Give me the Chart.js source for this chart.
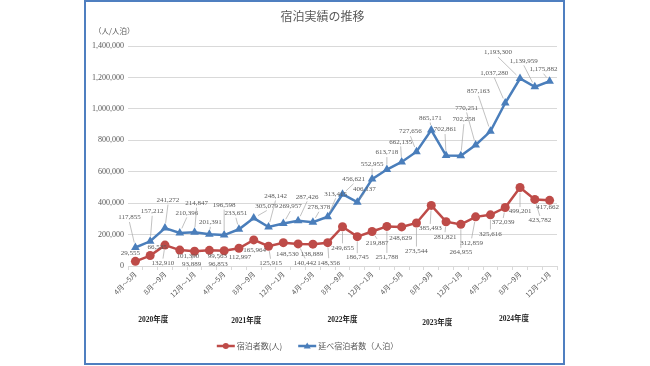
<!DOCTYPE html>
<html><head><meta charset="utf-8">
<script src="https://cdn.jsdelivr.net/npm/chart.js@4"></script>
<style>
html,body{margin:0;padding:0;background:#fff;}
#wrap{position:relative;width:650px;height:366px;overflow:hidden;}
#frame{position:absolute;left:84px;top:0;width:477px;height:361px;border:2px solid #4f7fc0;pointer-events:none;}
canvas{position:absolute;left:0;top:0;}
</style></head><body>
<div id="wrap"><canvas id="c" width="650" height="366"></canvas><div id="frame"></div></div>
<script>
// ---- data ----
const categories = [
  '4月～5月','6月～7月','8月～9月','10月～11月','12月～1月','2月～3月',
  '4月～5月','6月～7月','8月～9月','10月～11月','12月～1月','2月～3月',
  '4月～5月','6月～7月','8月～9月','10月～11月','12月～1月','2月～3月',
  '4月～5月','6月～7月','8月～9月','10月～11月','12月～1月','2月～3月',
  '4月～5月','6月～7月','8月～9月','10月～11月','12月～1月'
];
const fiscalYears = ['2020年度','2021年度','2022年度','2023年度','2024年度'];
const guests = [
  29555, 66535, 132910, 101390, 93889, 99563,
  96853, 112997, 165964, 125915, 148530, 140442,
  138889, 148356, 249655, 186745, 219887, 251788,
  248629, 273544, 385493, 281821, 264955, 312859,
  325616, 372039, 499201, 423782, 417662
];
const guestNights = [
  117855, 157212, 241272, 210396, 214847, 201391,
  196598, 233651, 305079, 248142, 269957, 287426,
  278378, 313415, 456621, 406137, 552955, 613718,
  662135, 727656, 865171, 702861, 702258, 770251,
  857163, 1037280, 1193300, 1139959, 1175882
];
const seriesNames = ['宿泊者数(人)', '延べ宿泊者数（人泊）'];
const yTicks = { min: 0, max: 1400000, step: 200000 };

// ---- layout / style (label offsets in px relative to each point) ----
const guestLabelOffsets = [
  [-5,-8],[7,-8],[-2,18],[8,6],[-3,13],[8,6],
  [-6,13],[1,9],[1,10],[2,17],[4,11],[7,19],
  [-1,10],[1,20],[0,21],[0,21],[5,12],[0,31],
  [-1,11],[0,28],[-1,23],[-1,15],[0,28],[-4,26],
  [0,19],[-2,15],[0,24],[5,21],[-2,7]
];
const nightLabelOffsets = [
  [-6,-30],[2,-30],[3,-28],[7,-20],[2,-29],[1,-12],
  [0,-30],[-3,-16],[13,-12],[7,-31],[7,-17],[9,-24],
  [6,-15],[8,-23],[11,-15],[7,-13],[0,-15],[0,-17],
  [-1,-20],[-6,-20],[-1,-12],[-1,-26],[3,-36],[-9,-37],
  [-12,-40],[-11,-30],[-22,-26],[-11,-26],[-6,-12]
];
const yearAnchor = [1.2, 7.5, 14, 20.4, 25.6];
const yearDy = [0, 1, 0, 3, -1];
const RED = '#BE4B48', BLUE = '#4A7EBB', TXT = '#595959';
const SERIF = "'Liberation Serif','Noto Sans CJK JP',serif";
const CJK = "'Noto Sans CJK JP','Liberation Serif',sans-serif";
const fmt = v => v.toLocaleString('en-US');

const labelPlugin = {
  id: 'dl',
  afterDatasetsDraw(chart) {
    const ctx = chart.ctx;
    ctx.save();
    ctx.font = '7px ' + SERIF;
    ctx.fillStyle = TXT; ctx.textAlign = 'center'; ctx.textBaseline = 'middle';
    chart.data.datasets.forEach((ds, di) => {
      const meta = chart.getDatasetMeta(di);
      meta.data.forEach((pt, i) => {
        const [dx, dy] = ds.labelOffsets[i];
        const lx = pt.x + dx, ly = pt.y + dy;
        const dist = Math.hypot(dx, dy);
        if (dist > 12) {
          const sx = lx, sy = ly + (dy < 0 ? 4.5 : -4.5);
          const vx = pt.x - sx, vy = pt.y - sy, vl = Math.hypot(vx, vy);
          if (vl > 6) {
            ctx.strokeStyle = '#a6a6a6'; ctx.lineWidth = 0.7;
            ctx.beginPath(); ctx.moveTo(sx, sy);
            ctx.lineTo(pt.x - vx / vl * 5, pt.y - vy / vl * 5); ctx.stroke();
          }
        }
        ctx.fillText(fmt(ds.data[i]), lx, ly);
      });
    });
    ctx.restore();
  },
  afterDraw(chart) {
    const ctx = chart.ctx, ca = chart.chartArea, xs = chart.scales.x;
    ctx.save();
    // unit label
    ctx.fillStyle = TXT; ctx.font = '7.5px ' + CJK; ctx.textAlign = 'left'; ctx.textBaseline = 'middle';
    ctx.fillText('（人/人泊）', ca.left - 34, ca.top - 15);
    // fiscal-year labels
    ctx.fillStyle = '#262626'; ctx.font = 'bold 7.5px ' + SERIF; ctx.textAlign = 'center';
    fiscalYears.forEach((y, k) => {
      ctx.fillText(y, xs.getPixelForValue(yearAnchor[k]), ca.bottom + 54 + yearDy[k]);
    });
    // legend
    ctx.font = '8px ' + CJK;
    const ly = ca.bottom + 80;
    const items = chart.data.datasets.map(ds => ({ ds, w: 20 + ctx.measureText(ds.label).width }));
    const gap = 16;
    const total = items.reduce((a, it) => a + it.w, 0) + gap * (items.length - 1);
    let x = (ca.left + ca.right) / 2 - 35 - total / 2;
    items.forEach(it => {
      const c = it.ds.borderColor;
      ctx.strokeStyle = c; ctx.fillStyle = c; ctx.lineWidth = 2.5;
      ctx.beginPath(); ctx.moveTo(x, ly); ctx.lineTo(x + 18, ly); ctx.stroke();
      ctx.beginPath();
      if (it.ds.pointStyle === 'triangle') {
        ctx.moveTo(x + 9, ly - 3.5); ctx.lineTo(x + 12.5, ly + 2.5); ctx.lineTo(x + 5.5, ly + 2.5); ctx.closePath();
      } else {
        ctx.arc(x + 9, ly, 3, 0, Math.PI * 2);
      }
      ctx.fill();
      ctx.fillStyle = TXT; ctx.textAlign = 'left';
      ctx.fillText(it.ds.label, x + 20, ly);
      x += it.w + gap;
    });
    ctx.restore();
  }
};

new Chart(document.getElementById('c'), {
  type: 'line',
  data: {
    labels: categories,
    datasets: [
      { label: seriesNames[0], data: guests, borderColor: RED, backgroundColor: RED,
        borderWidth: 2.5, pointStyle: 'circle', pointRadius: 4.5, pointBorderWidth: 0,
        tension: 0, labelOffsets: guestLabelOffsets },
      { label: seriesNames[1], data: guestNights, borderColor: BLUE, backgroundColor: BLUE,
        borderWidth: 2.5, pointStyle: 'triangle', pointRadius: 5, pointBorderWidth: 0,
        tension: 0, labelOffsets: nightLabelOffsets }
    ]
  },
  options: {
    responsive: false, animation: false, devicePixelRatio: 1,
    layout: { padding: { left: 88, right: 93, top: 0, bottom: 0 } },
    plugins: {
      legend: { display: false },
      tooltip: { enabled: false },
      title: { display: true, text: '宿泊実績の推移', color: TXT,
        font: { family: CJK, size: 12, weight: 'normal' }, padding: { top: 9, bottom: 22.6 } }
    },
    scales: {
      x: {
        offset: true,
        grid: { offset: true, drawOnChartArea: false, color: '#d9d9d9', tickLength: 4 },
        border: { color: '#d9d9d9' },
        ticks: { autoSkip: false, maxRotation: 45, minRotation: 45, color: TXT, padding: 0,
          font: { family: CJK, size: 7 },
          callback: (v, i) => (i % 2 === 0 ? categories[i] : '') },
        afterFit: s => { s.height = 100; }
      },
      y: {
        min: yTicks.min, max: yTicks.max,
        grid: { color: '#d9d9d9', drawTicks: false },
        border: { display: false },
        ticks: { stepSize: yTicks.step, color: TXT, padding: 4,
          font: { family: SERIF, size: 8 }, callback: v => fmt(v) },
        afterFit: s => { s.width = 40; }
      }
    }
  },
  plugins: [labelPlugin]
});
</script>
</body></html>
